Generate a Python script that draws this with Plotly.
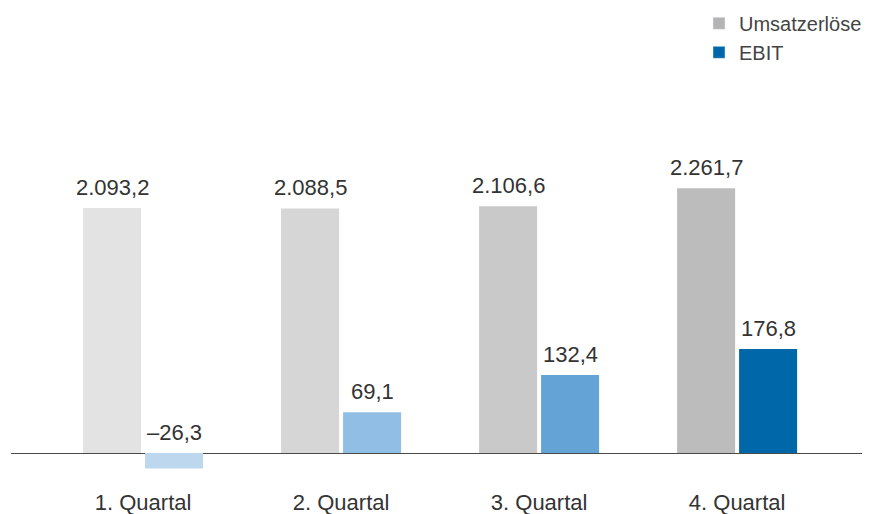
import plotly.graph_objects as go

categories = ["1. Quartal", "2. Quartal", "3. Quartal", "4. Quartal"]
umsatz = [2093.2, 2088.5, 2106.6, 2261.7]
ebit = [-26.3, 69.1, 132.4, 176.8]
umsatz_labels = ["2.093,2", "2.088,5", "2.106,6", "2.261,7"]
ebit_labels = ["\u201326,3", "69,1", "132,4", "176,8"]

grey_colors = ["#e3e3e3", "#d6d6d6", "#c9c9c9", "#bcbcbc"]
blue_colors = ["#bdd7ee", "#90bee4", "#64a3d6", "#0067a9"]
legend_grey = "#b4b4b4"
legend_blue = "#0067a9"

FONT = "Liberation Sans, Arial, sans-serif"
TXT = "#333333"

fig = go.Figure()
fig.add_trace(go.Bar(x=categories, y=umsatz, marker=dict(color=grey_colors, line=dict(width=0)),
                     offset=-0.303, width=0.293, showlegend=False, yaxis="y"))
fig.add_trace(go.Bar(x=categories, y=ebit, marker=dict(color=blue_colors, line=dict(width=0)),
                     offset=0.01, width=0.293, showlegend=False, yaxis="y2"))
# legend entries
fig.add_trace(go.Bar(x=[None], y=[None], name="Umsatzerlöse", marker=dict(color=legend_grey), yaxis="y"))
fig.add_trace(go.Bar(x=[None], y=[None], name="EBIT", marker=dict(color=legend_blue), yaxis="y2"))

annotations = []
for c, v, t in zip(categories, umsatz, umsatz_labels):
    annotations.append(dict(x=c, y=max(v, 0), xref="x", yref="y", text=t, showarrow=False,
                            xanchor="center", yanchor="bottom", xshift=-31, yshift=6,
                            font=dict(family=FONT, size=22, color=TXT)))
for c, v, t in zip(categories, ebit, ebit_labels):
    annotations.append(dict(x=c, y=max(v, 0), xref="x", yref="y2", text=t, showarrow=False,
                            xanchor="center", yanchor="bottom", xshift=31, yshift=6,
                            font=dict(family=FONT, size=22, color=TXT)))

fig.update_layout(
    width=870, height=514,
    margin=dict(l=3, r=10, t=52, b=52, autoexpand=False),
    paper_bgcolor="white", plot_bgcolor="white",
    barmode="overlay",
    font=dict(family=FONT, color=TXT),
    xaxis=dict(range=[-0.667, 3.661], showgrid=False, showline=False, zeroline=False,
               ticks="", ticklabelstandoff=17, tickfont=dict(family=FONT, size=22, color=TXT)),
    yaxis=dict(range=[-145.2, 3356], visible=True, showgrid=False, showticklabels=False,
               zeroline=True, zerolinecolor="#4a4a4a", zerolinewidth=1, showline=False, ticks=""),
    yaxis2=dict(range=[-28.9, 667.8], overlaying="y", side="right", showgrid=False,
                showticklabels=False, zeroline=False, showline=False, ticks=""),
    legend=dict(x=(691 - 3) / 857, y=1.137, xref="paper", yref="paper", xanchor="left", yanchor="top",
                font=dict(family=FONT, size=20, color="#444444"), bgcolor="rgba(0,0,0,0)",
                tracegroupgap=0),
    annotations=annotations,
)

fig.write_html("out.html")
